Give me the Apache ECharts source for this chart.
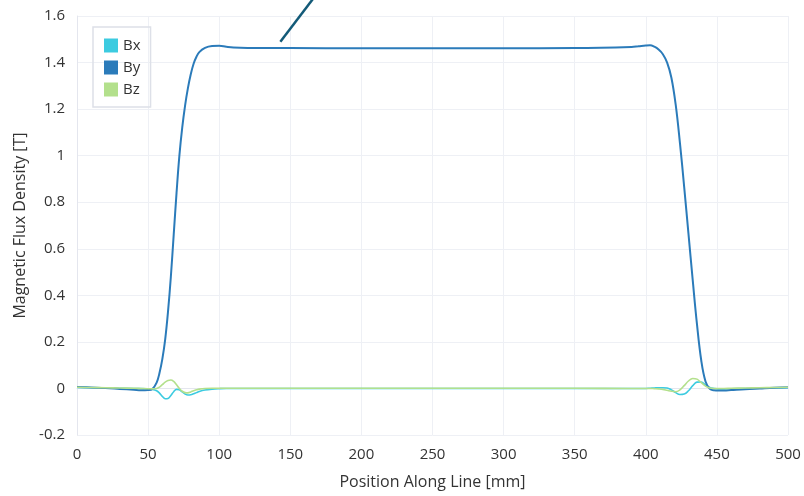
<!DOCTYPE html>
<html>
<head>
<meta charset="utf-8">
<script src="https://cdn.jsdelivr.net/npm/echarts@6/dist/echarts.min.js"></script>
<style>
  html, body { margin: 0; padding: 0; background: #fff; }
  #main { width: 804px; height: 496px; }
</style>
</head>
<body>
<div id="main"></div>
<script>
// positions along the line [mm]
var positions = [0, 10, 20, 30, 40, 45, 50, 53, 56, 58, 60, 62, 64, 66, 68, 70, 72, 74, 76, 78,
  80, 82, 84, 86, 90, 95, 100, 105, 110, 120, 150, 200, 250, 300, 350, 390, 395, 400, 403, 406,
  409, 412, 415, 418, 421, 424, 427, 430, 433, 436, 439, 442, 445, 448, 451, 455, 460, 470, 480, 490, 500];

var bx = [0.004, 0.003, 0.002, 0.001, 0.0, 0.0, -0.002, -0.004, -0.01, -0.02, -0.034, -0.044, -0.043, -0.03, -0.014, -0.004, -0.006, -0.015, -0.024, -0.028,
  -0.027, -0.023, -0.018, -0.013, -0.007, -0.003, -0.001, 0.0, 0.0, 0.0, 0.0, 0.0, 0.0, 0.0, 0.0, 0.0, 0.0, 0.0, 0.001, 0.002,
  0.003, 0.003, 0.002, -0.006, -0.018, -0.026, -0.024, -0.01, 0.012, 0.027, 0.028, 0.015, 0.004, 0.0, -0.002, -0.002, -0.001, 0.0, 0.001, 0.002, 0.003];

var by = [0.006, 0.004, 0.002, -0.002, -0.006, -0.008, -0.007, -0.002, 0.025, 0.066, 0.126, 0.21, 0.33, 0.48, 0.66, 0.84, 1.0, 1.12, 1.215, 1.29,
  1.35, 1.395, 1.425, 1.445, 1.463, 1.471, 1.472, 1.468, 1.465, 1.463, 1.462, 1.461, 1.461, 1.461, 1.462, 1.467, 1.47, 1.473, 1.474, 1.468,
  1.456, 1.436, 1.40, 1.335, 1.22, 1.055, 0.865, 0.665, 0.465, 0.275, 0.12, 0.03, -0.002, -0.008, -0.009, -0.009, -0.007, -0.003, 0.0, 0.003, 0.005];

var bz = [0.005, 0.004, 0.003, 0.002, 0.001, 0.0, -0.001, -0.002, 0.0, 0.006, 0.016, 0.027, 0.034, 0.036, 0.03, 0.016, 0.0, -0.012, -0.018, -0.019,
  -0.015, -0.01, -0.006, -0.003, 0.0, 0.001, 0.001, 0.001, 0.001, 0.001, 0.001, 0.001, 0.001, 0.001, 0.001, 0.0, 0.0, 0.0, 0.0, -0.001,
  -0.002, -0.004, -0.008, -0.012, -0.014, -0.006, 0.012, 0.032, 0.043, 0.04, 0.025, 0.01, 0.002, 0.0, 0.0, 0.0, 0.001, 0.002, 0.003, 0.004, 0.005];

// pointer line drawn over the plateau (data coordinates)
var pointerX = [143, 168];
var pointerY = [1.489, 1.69];

var seriesNames = ['Bx', 'By', 'Bz'];
var seriesColors = ['#3ccbe0', '#2b7bba', '#b3e08c'];

function pairs(xs, ys) {
  return xs.map(function (x, i) { return [x, ys[i]]; });
}

var chart = echarts.init(document.getElementById('main'));
var font = 'Open Sans';

var option = {
  backgroundColor: '#fff',
  animation: false,
  grid: { left: 77, right: 16, top: 16, bottom: 61 },
  legend: {
    data: seriesNames,
    orient: 'vertical',
    left: 93,
    top: 27,
    padding: [11, 10, 10, 11],
    itemWidth: 14,
    itemHeight: 14,
    itemGap: 7,
    icon: 'rect',
    borderColor: '#dde0e8',
    borderWidth: 1.5,
    textStyle: { fontFamily: font, fontSize: 15, color: '#333' }
  },
  xAxis: {
    type: 'value',
    min: 0,
    max: 500,
    interval: 50,
    name: 'Position Along Line [mm]',
    nameLocation: 'middle',
    nameGap: 39,
    nameTextStyle: { fontFamily: font, fontSize: 16, color: '#333' },
    axisLine: { lineStyle: { color: '#e4e6ee' } },
    axisTick: { show: false },
    axisLabel: { fontFamily: font, fontSize: 15, color: '#333', margin: 12 },
    splitLine: { lineStyle: { color: '#eef0f5' } }
  },
  yAxis: {
    type: 'value',
    min: -0.2,
    max: 1.6,
    interval: 0.2,
    name: 'Magnetic Flux Density [T]',
    nameLocation: 'middle',
    nameGap: 49,
    nameTextStyle: { fontFamily: font, fontSize: 16, color: '#333' },
    axisLine: { show: true, lineStyle: { color: '#e4e6ee' } },
    axisTick: { show: false },
    axisLabel: { fontFamily: font, fontSize: 15, color: '#333', margin: 12 },
    splitLine: { lineStyle: { color: '#eef0f5' } }
  },
  series: [
    {
      name: 'Bx', type: 'line', data: pairs(positions, bx), showSymbol: false, smooth: 0.4,
      lineStyle: { width: 1.6, color: seriesColors[0] }, itemStyle: { color: seriesColors[0] }
    },
    {
      name: 'By', type: 'line', data: pairs(positions, by), showSymbol: false, smooth: 0.4,
      lineStyle: { width: 2, color: seriesColors[1] }, itemStyle: { color: seriesColors[1] }
    },
    {
      name: 'Bz', type: 'line', data: pairs(positions, bz), showSymbol: false, smooth: 0.4,
      lineStyle: { width: 1.6, color: seriesColors[2] }, itemStyle: { color: seriesColors[2] }
    },
    {
      name: 'pointer', type: 'line', data: pairs(pointerX, pointerY), showSymbol: false, clip: false,
      silent: true, lineStyle: { width: 2.5, color: '#135a78' }
    }
  ]
};

chart.setOption(option);
</script>
</body>
</html>
